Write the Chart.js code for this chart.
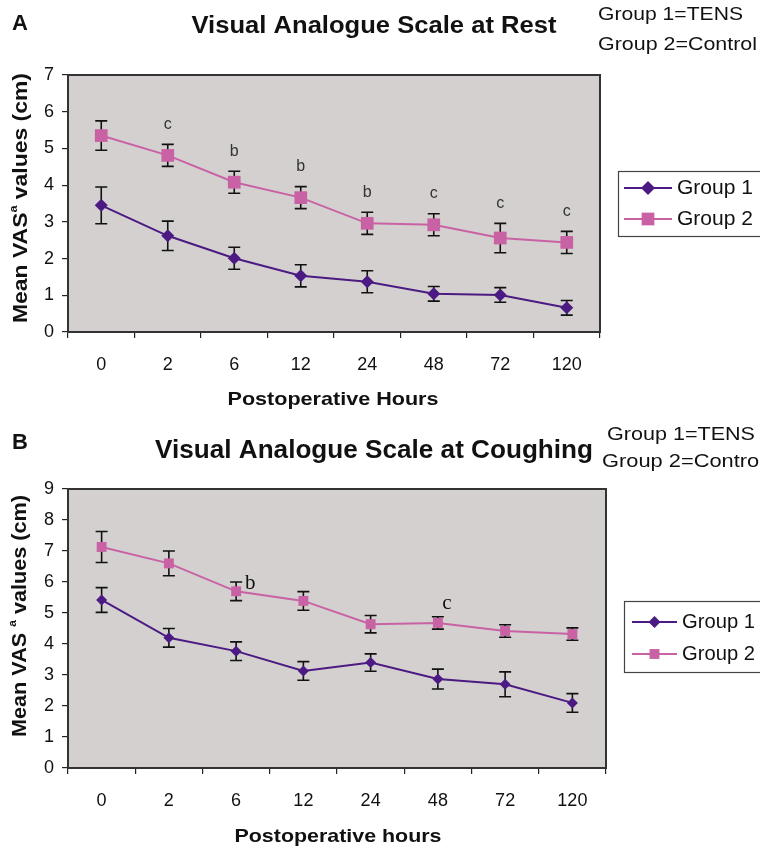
<!DOCTYPE html>
<html>
<head>
<meta charset="utf-8">
<title>Visual Analogue Scale</title>
<script src="https://cdn.jsdelivr.net/npm/chart.js"></script>
<style>
  body { margin: 0; background: #fff; }
  canvas { display: block; }
</style>
</head>
<body>
<canvas id="restChart" width="760" height="425"></canvas>
<canvas id="coughChart" width="760" height="425"></canvas>
<script>
// values
const hours = ['0', '2', '6', '12', '24', '48', '72', '120'];

const restGroup1    = [3.45, 2.62, 2.01, 1.53, 1.37, 1.04, 1.01, 0.66];
const restGroup1Err = [0.50, 0.40, 0.30, 0.30, 0.30, 0.20, 0.20, 0.20];
const restGroup2    = [5.35, 4.81, 4.08, 3.66, 2.96, 2.92, 2.56, 2.44];
const restGroup2Err = [0.40, 0.30, 0.30, 0.30, 0.30, 0.30, 0.40, 0.30];
const restMarks     = ['', 'c', 'b', 'b', 'b', 'c', 'c', 'c'];

const coughGroup1    = [5.42, 4.20, 3.77, 3.13, 3.40, 2.87, 2.70, 2.10];
const coughGroup1Err = [0.40, 0.30, 0.30, 0.30, 0.28, 0.32, 0.40, 0.30];
const coughGroup2    = [7.13, 6.60, 5.70, 5.39, 4.64, 4.68, 4.42, 4.32];
const coughGroup2Err = [0.50, 0.40, 0.30, 0.30, 0.28, 0.20, 0.20, 0.20];
const coughMarks     = ['', '', 'b', '', '', 'c', '', ''];

const purple = '#4b1a82';
const pink = '#c962a4';
const plotGray = '#d4d0d0';
const SANS = '"Liberation Sans", Arial, sans-serif';
const SERIF = '"Liberation Serif", "DejaVu Serif", serif';

// draw text squeezed/stretched to a target width
function fitText(ctx, text, x, y, font, width, align) {
    ctx.save();
    ctx.font = font;
    ctx.textBaseline = 'middle';
    ctx.textAlign = 'left';
    var w = ctx.measureText(text).width;
    var k = width ? width / w : 1;
    var left = align === 'center' ? x - (w * k) / 2 : x;
    ctx.translate(left, y);
    ctx.scale(k, 1);
    ctx.fillText(text, 0, 0);
    ctx.restore();
}

function drawMarker(ctx, style, x, y, r, color) {
    ctx.save();
    ctx.fillStyle = color;
    ctx.beginPath();
    if (style === 'rectRot') {
        ctx.moveTo(x, y - r); ctx.lineTo(x + r, y); ctx.lineTo(x, y + r); ctx.lineTo(x - r, y);
    } else {
        var s = r * Math.SQRT1_2;
        ctx.rect(x - s, y - s, 2 * s, 2 * s);
    }
    ctx.closePath();
    ctx.fill();
    ctx.restore();
}

const panelPlugin = {
    id: 'panel',
    beforeDraw: function(chart, args, o) {
        var ctx = chart.ctx, a = chart.chartArea;
        ctx.save();
        ctx.fillStyle = plotGray;
        ctx.fillRect(a.left, a.top, a.right - a.left, a.bottom - a.top);
        ctx.restore();
    },
    beforeDatasetsDraw: function(chart, args, o) {
        // error bars
        var ctx = chart.ctx, x = chart.scales.x, y = chart.scales.y;
        ctx.save();
        ctx.strokeStyle = '#111';
        ctx.lineWidth = 1.6;
        chart.data.datasets.forEach(function(ds, di) {
            var errs = o.errors[di];
            ds.data.forEach(function(v, i) {
                var px = x.getPixelForValue(i);
                var top = y.getPixelForValue(v + errs[i]);
                var bot = y.getPixelForValue(v - errs[i]);
                ctx.beginPath();
                ctx.moveTo(px, top); ctx.lineTo(px, bot);
                ctx.moveTo(px - o.cap, top); ctx.lineTo(px + o.cap, top);
                ctx.moveTo(px - o.cap, bot); ctx.lineTo(px + o.cap, bot);
                ctx.stroke();
            });
        });
        ctx.restore();
    },
    afterDraw: function(chart, args, o) {
        var ctx = chart.ctx, a = chart.chartArea, x = chart.scales.x, y = chart.scales.y;
        ctx.save();
        // plot frame
        ctx.strokeStyle = '#333';
        ctx.lineWidth = 2;
        ctx.strokeRect(a.left, a.top, a.right - a.left, a.bottom - a.top);

        ctx.fillStyle = '#111';
        // panel letter, title, group key
        fitText(ctx, o.letter, 12, o.letterY, 'bold 22px ' + SANS, 0, 'left');
        fitText(ctx, o.title, o.titleX, o.titleY, 'bold ' + o.titleSize + 'px ' + SANS, o.titleW, 'center');
        fitText(ctx, 'Group 1=TENS', o.keyX1, o.keyY1, '19px ' + SANS, o.keyW1, 'left');
        fitText(ctx, 'Group 2=Control', o.keyX2, o.keyY2, '19px ' + SANS, o.keyW2, 'left');

        // x axis title
        fitText(ctx, o.xTitle, o.xTitleX, o.xTitleY, 'bold 19px ' + SANS, o.xTitleW, 'center');

        // y axis title with superscript a
        ctx.save();
        ctx.translate(o.yTitleX, o.yTitleY);
        ctx.rotate(-Math.PI / 2);
        var big = 'bold 20px ' + SANS, small = 'bold 11px ' + SANS;
        ctx.font = big;
        var w1 = ctx.measureText(o.yTitle[0]).width;
        var w3 = ctx.measureText(o.yTitle[2]).width;
        ctx.font = small;
        var w2 = ctx.measureText(o.yTitle[1]).width;
        var total = w1 + w2 + w3;
        var k = o.yTitleW / total;
        ctx.scale(k, 1);
        ctx.translate(-total / 2, 0);
        ctx.textBaseline = 'middle';
        ctx.font = big;
        ctx.fillText(o.yTitle[0], 0, 0);
        ctx.font = small;
        ctx.fillText(o.yTitle[1], w1, -7);
        ctx.font = big;
        ctx.fillText(o.yTitle[2], w1 + w2, 0);
        ctx.restore();

        // significance letters
        var ref = chart.data.datasets[1].data;
        o.marks.forEach(function(m, i) {
            if (!m) return;
            var px = x.getPixelForValue(i), py;
            if (o.markMode === 'errTop') {
                py = y.getPixelForValue(ref[i] + o.errors[1][i]) - 20;
            } else {
                py = y.getPixelForValue(ref[i]) + o.markOffsets[i][1];
                px += o.markOffsets[i][0];
            }
            ctx.fillStyle = o.markColor;
            fitText(ctx, m, px, py, o.markFont, 0, 'center');
        });

        // legend
        var L = o.legend;
        ctx.fillStyle = '#fff';
        ctx.fillRect(L.x, L.y, 760 - L.x + 5, L.h);
        ctx.strokeStyle = '#444';
        ctx.lineWidth = 1.2;
        ctx.strokeRect(L.x + 0.5, L.y + 0.5, 760 - L.x + 5, L.h);
        chart.data.datasets.forEach(function(ds, di) {
            var ly = L.rows[di];
            ctx.strokeStyle = ds.borderColor;
            ctx.lineWidth = 2;
            ctx.beginPath();
            ctx.moveTo(L.lineX0, ly); ctx.lineTo(L.lineX1, ly);
            ctx.stroke();
            drawMarker(ctx, ds.pointStyle, (L.lineX0 + L.lineX1) / 2, ly, L.marker[di], ds.backgroundColor);
            ctx.fillStyle = '#111';
            fitText(ctx, ds.label, L.textX, ly, L.font, L.textW, 'left');
        });
        ctx.restore();
    }
};

function makeChart(id, g1, g2, yMax, o) {
    return new Chart(document.getElementById(id), {
        type: 'line',
        data: {
            labels: hours,
            datasets: [
                {
                    label: 'Group 1',
                    data: g1,
                    borderColor: purple,
                    backgroundColor: purple,
                    borderWidth: 2,
                    pointStyle: 'rectRot',
                    pointRadius: o.r1,
                    pointBorderWidth: 0,
                    tension: 0
                },
                {
                    label: 'Group 2',
                    data: g2,
                    borderColor: pink,
                    backgroundColor: pink,
                    borderWidth: 2,
                    pointStyle: 'rect',
                    pointRadius: o.r2,
                    pointBorderWidth: 0,
                    tension: 0
                }
            ]
        },
        options: {
            responsive: false,
            animation: false,
            layout: { padding: { top: o.top, right: o.right, left: 0, bottom: 0 } },
            plugins: {
                legend: { display: false },
                title: { display: false },
                tooltip: { enabled: false },
                panel: o
            },
            scales: {
                x: {
                    offset: true,
                    border: { display: false },
                    grid: { offset: true, drawOnChartArea: false, tickLength: 6, color: '#222', lineWidth: 1.2 },
                    ticks: { color: '#111', padding: o.xPad, font: { family: SANS, size: 18 } },
                    afterFit: function(s) { s.height = o.xHeight; }
                },
                y: {
                    min: 0,
                    max: yMax,
                    border: { display: false },
                    grid: { drawOnChartArea: false, tickLength: 6, color: '#222', lineWidth: 1.2 },
                    ticks: { stepSize: 1, color: '#111', padding: 8, font: { family: SANS, size: 18 } },
                    afterFit: function(s) { s.width = 68; }
                }
            }
        },
        plugins: [panelPlugin]
    });
}

makeChart('restChart', restGroup1, restGroup2, 7, {
    top: 75, right: 160, xHeight: 93, xPad: 16, r1: 6.5, r2: 9, cap: 6,
    errors: [restGroup1Err, restGroup2Err],
    letter: 'A', letterY: 24,
    title: 'Visual Analogue Scale at Rest', titleX: 374, titleY: 27, titleSize: 23, titleW: 365,
    keyX1: 598, keyY1: 15, keyW1: 145, keyX2: 598, keyY2: 45, keyW2: 159,
    xTitle: 'Postoperative Hours', xTitleX: 333, xTitleY: 400, xTitleW: 211,
    yTitle: ['Mean VAS', 'a', ' values (cm)'], yTitleX: 21, yTitleY: 198, yTitleW: 250,
    marks: restMarks, markMode: 'errTop', markColor: '#333', markFont: '16px ' + SANS,
    legend: { x: 618, y: 171, h: 65, rows: [188, 219], lineX0: 624, lineX1: 672, marker: [7, 9],
              textX: 677, textW: 76, font: '21px ' + SANS }
});

makeChart('coughChart', coughGroup1, coughGroup2, 9, {
    top: 64, right: 154, xHeight: 82, xPad: 16, r1: 5.5, r2: 7, cap: 6,
    errors: [coughGroup1Err, coughGroup2Err],
    letter: 'B', letterY: 18,
    title: 'Visual Analogue Scale at Coughing', titleX: 374, titleY: 26, titleSize: 25, titleW: 438,
    keyX1: 607, keyY1: 10, keyW1: 148, keyX2: 602, keyY2: 37, keyW2: 162,
    xTitle: 'Postoperative hours', xTitleX: 338, xTitleY: 412, xTitleW: 207,
    yTitle: ['Mean VAS ', 'a', ' values (cm)'], yTitleX: 20, yTitleY: 191, yTitleW: 242,
    marks: coughMarks, markMode: 'offset', markColor: '#111', markFont: '21px ' + SERIF,
    markOffsets: [null, null, [14, -8], null, null, [9, -19], null, null],
    legend: { x: 624, y: 176, h: 71, rows: [197, 229], lineX0: 632, lineX1: 677, marker: [6, 7],
              textX: 682, textW: 73, font: '20px ' + SANS }
});
</script>
</body>
</html>
